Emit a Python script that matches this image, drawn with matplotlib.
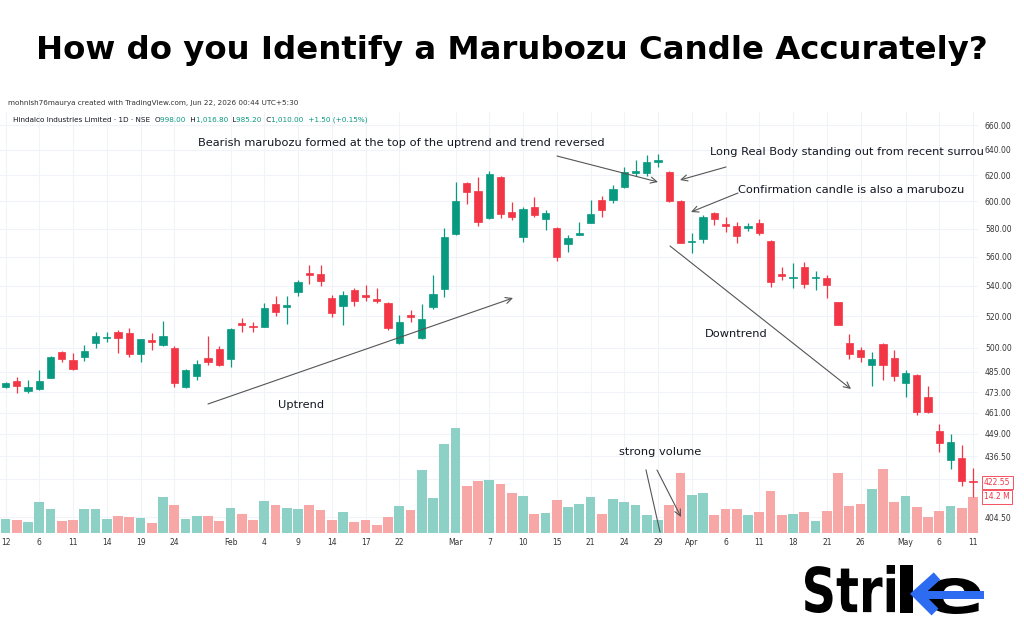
import numpy as np
import matplotlib
matplotlib.use("Agg")
import matplotlib.pyplot as plt
from matplotlib.textpath import TextPath
from matplotlib.patches import PathPatch, Rectangle
from matplotlib.font_manager import FontProperties
from matplotlib.offsetbox import TextArea, HPacker, AnnotationBbox
from matplotlib.transforms import Affine2D, blended_transform_factory
from matplotlib.lines import Line2D
import matplotlib.ticker as mticker

# daily candles, Hindalco (price in INR, volume in millions)
opens = [475.9, 479.5, 473.5, 474.7, 481.5, 497.3, 492.3, 494.1, 502.6, 505.9,
         509.7, 509.3, 495.7, 504.6, 501.3, 499.5, 475.9, 482.7, 493.3, 499.0,
         493.0, 515.3, 513.8, 513.1, 528.1, 526.1, 536.0, 548.5, 547.9, 531.8,
         526.7, 537.1, 533.8, 531.4, 528.7, 502.6, 520.5, 505.7, 525.7, 537.6,
         575.9, 614.3, 608.1, 587.5, 618.6, 592.1, 573.7, 595.6, 586.7, 580.2,
         568.9, 575.5, 584.2, 600.7, 601.1, 611.1, 621.8, 621.9, 630.5, 622.7,
         600.5, 570.2, 572.3, 591.6, 583.3, 581.9, 580.3, 583.8, 571.3, 547.8,
         545.3, 552.5, 545.3, 545.5, 529.2, 503.0, 498.4, 489.2, 502.0, 493.3,
         478.1, 483.3, 470.2, 450.8, 434.3, 435.4, 423.3]
highs = [478.9, 481.7, 480.1, 486.1, 494.7, 498.0, 496.7, 501.5, 509.9, 509.9,
         511.0, 512.1, 505.6, 509.3, 517.0, 500.9, 486.6, 492.3, 507.2, 500.9,
         512.1, 518.5, 516.3, 528.7, 533.3, 533.1, 543.9, 554.5, 554.5, 534.1,
         536.5, 538.3, 540.5, 538.3, 529.4, 520.7, 524.0, 527.9, 547.3, 580.2,
         614.9, 614.9, 618.6, 623.0, 619.1, 599.8, 596.0, 603.5, 593.6, 580.9,
         575.3, 585.0, 601.1, 603.8, 612.4, 626.3, 631.8, 635.7, 636.3, 623.3,
         601.1, 576.7, 589.9, 592.3, 588.6, 585.0, 584.4, 587.1, 571.8, 552.5,
         555.9, 556.2, 550.4, 547.3, 529.4, 508.4, 500.3, 497.3, 502.6, 498.4,
         486.3, 483.8, 476.5, 454.5, 448.9, 442.9, 430.0]
lows = [475.3, 472.6, 472.6, 474.1, 481.1, 491.2, 486.2, 491.8, 499.5, 503.2,
        496.7, 494.3, 490.8, 498.4, 500.9, 475.7, 475.5, 480.1, 489.2, 488.6,
        487.8, 509.7, 509.9, 512.7, 520.0, 514.8, 533.1, 541.2, 539.8, 519.7,
        514.2, 526.5, 529.9, 528.4, 511.0, 502.1, 516.3, 505.1, 524.4, 532.7,
        575.3, 597.7, 581.9, 586.7, 587.9, 586.2, 570.5, 588.6, 579.0, 557.0,
        563.5, 575.1, 583.8, 588.2, 598.8, 610.1, 619.7, 619.7, 626.5, 599.9,
        569.4, 562.3, 569.6, 582.6, 577.7, 569.4, 578.6, 575.3, 539.4, 543.9,
        538.3, 538.3, 537.1, 531.6, 514.2, 492.9, 491.2, 476.8, 480.3, 479.5,
        470.2, 459.6, 460.9, 438.7, 429.5, 420.6, 415.0]
closes = [478.3, 476.5, 475.7, 479.5, 493.9, 493.0, 486.8, 498.0, 507.4, 506.6,
          506.1, 495.9, 505.1, 503.5, 507.0, 478.5, 486.1, 489.6, 490.8, 489.2,
          511.5, 514.2, 512.9, 525.4, 522.8, 527.2, 542.7, 547.3, 543.0, 522.3,
          534.0, 529.9, 532.7, 530.1, 512.6, 516.3, 519.2, 517.9, 534.5, 574.1,
          600.5, 606.7, 584.5, 620.6, 590.6, 588.6, 594.1, 589.7, 591.6, 559.9,
          572.9, 576.9, 590.4, 593.6, 609.0, 622.7, 623.1, 630.5, 631.8, 600.4,
          569.8, 571.0, 588.2, 587.3, 581.7, 574.8, 582.1, 576.5, 542.5, 546.8,
          546.2, 541.4, 546.2, 540.3, 514.4, 495.8, 493.9, 492.7, 489.0, 482.7,
          484.5, 461.5, 461.5, 444.0, 444.5, 423.3, 422.55]
volume_m = [5.6, 5.1, 4.5, 12.2, 9.3, 4.7, 5.2, 9.3, 9.3, 5.5,
            6.7, 6.3, 5.8, 4.1, 14.2, 11.0, 5.5, 6.6, 6.6, 4.8,
            9.7, 7.4, 5.1, 12.6, 10.9, 9.7, 9.3, 10.9, 9.2, 5.1,
            8.3, 4.3, 5.2, 3.3, 6.2, 10.6, 8.9, 24.8, 13.7, 34.9,
            41.3, 18.5, 20.4, 20.9, 19.5, 15.9, 14.7, 7.5, 7.9, 13.1,
            10.4, 11.5, 14.2, 7.5, 13.5, 12.2, 11.0, 7.0, 5.2, 11.0,
            23.5, 15.1, 15.8, 7.1, 9.5, 9.3, 7.0, 8.2, 16.7, 7.2,
            7.5, 8.3, 4.7, 8.7, 23.6, 10.5, 11.5, 17.5, 25.1, 12.3,
            14.6, 10.4, 6.3, 8.7, 10.8, 9.7, 14.2]

tick_pos = [0, 3, 6, 9, 12, 15, 20, 23, 26, 29, 32, 35, 40, 43, 46, 49, 52,
            55, 58, 61, 64, 67, 70, 73, 76, 80, 83, 86]
tick_labels = ["12", "6", "11", "14", "19", "24", "Feb", "4", "9", "14", "17",
               "22", "Mar", "7", "10", "15", "21", "24", "29", "Apr", "6", "11",
               "18", "21", "26", "May", "6", "11"]
price_ticks = [660, 640, 620, 600, 580, 560, 540, 520, 500, 485, 473, 461,
               449, 436.5, 404.5]
hidden_grid = [424.5]   # grid row whose label sits under the last-price tag

GREEN = "#089981"
RED = "#f23645"
VGREEN = "#8dd0c5"
VRED = "#f7a8a6"
GRID = "#f0f3fa"
TXT = "#131722"

W, H = 1024, 640
fig = plt.figure(figsize=(W / 100, H / 100), dpi=100)
fig.patch.set_facecolor("white")

# chart area in pixels: x 0..978, y 112..533
rect = [0, (H - 533) / H, 978 / W, (533 - 112) / H]
xlim = (-0.49, 86.44)

# volume (bottom layer, also holds the grid)
axv = fig.add_axes(rect, label="vol")
axv.set_xlim(*xlim)
axv.set_ylim(0, 166)
axv.axis("off")

ax = fig.add_axes(rect, label="price")
ax.set_yscale("log")
ax.set_xlim(*xlim)
ax.set_ylim(396.7, 670.8)
ax.patch.set_visible(False)
for s in ax.spines.values():
    s.set_visible(False)

o = np.array(opens)
c = np.array(closes)
hi = np.array(highs)
lo = np.array(lows)
x = np.arange(len(o))
up = c >= o
cols = np.where(up, GREEN, RED)
vcols = np.where(up, VGREEN, VRED)

# grid
for t in tick_pos:
    axv.axvline(t, color=GRID, lw=0.8, zorder=0)
gtr = blended_transform_factory(axv.transAxes, ax.transData)
for p in price_ticks + hidden_grid:
    axv.plot([0, 1], [p, p], transform=gtr, color=GRID, lw=0.8, zorder=0)

axv.bar(x, volume_m, width=0.88, color=vcols, zorder=2)

ax.vlines(x, lo, hi, colors=cols, lw=0.9, zorder=3)
ax.bar(x, np.abs(c - o), bottom=np.minimum(o, c), width=0.64, color=cols,
       edgecolor=cols, linewidth=0.5, zorder=4)

ax.yaxis.tick_right()
ax.yaxis.set_major_locator(mticker.FixedLocator(price_ticks))
ax.yaxis.set_minor_locator(mticker.NullLocator())
ax.yaxis.set_major_formatter(mticker.FuncFormatter(lambda v, _: "%.2f" % v))
ax.set_xticks(tick_pos, tick_labels)
ax.tick_params(axis="both", length=0, labelsize=5.5, labelcolor="#333333")
ax.tick_params(axis="y", pad=5)
ax.tick_params(axis="x", pad=3.5)

# last price / last volume labels
tr_p = blended_transform_factory(ax.transAxes, ax.transData)
ax.text(1.006, closes[-1], "%.2f" % closes[-1], transform=tr_p, ha="left",
        va="center", fontsize=5.5, color=RED, zorder=10, clip_on=False,
        bbox=dict(boxstyle="square,pad=0.3", fc="white", ec=RED, lw=0.6))
tr_v = blended_transform_factory(ax.transAxes, axv.transData)
ax.text(1.006, volume_m[-1], "%.1f M" % volume_m[-1], transform=tr_v, ha="left",
        va="center", fontsize=5.5, color=RED, zorder=10, clip_on=False,
        bbox=dict(boxstyle="square,pad=0.3", fc="white", ec=RED, lw=0.6))

# overlay in pixel coordinates for annotations, header and logo
ov = fig.add_axes([0, 0, 1, 1], label="overlay")
ov.set_xlim(0, W)
ov.set_ylim(H, 0)
ov.axis("off")
ov.set_zorder(10)

title = "How do you Identify a Marubozu Candle Accurately?"
tt = ov.text(W / 2, 50, title, ha="center", va="center", fontsize=22,
             fontweight="bold", color="black")
r = fig.canvas.get_renderer()
tw = tt.get_window_extent(r).width
tt.set_fontsize(22 * 947 / tw)

ov.text(8, 103, "mohnish76maurya created with TradingView.com, Jun 22, 2026 00:44 UTC+5:30",
        fontsize=5.2, color="#333333", va="center", ha="left")

parts = [("Hindalco Industries Limited \u00b7 1D \u00b7 NSE  ", TXT), ("O", TXT),
         ("998.00 ", GREEN), (" H", TXT), ("1,016.80 ", GREEN), (" L", TXT),
         ("985.20 ", GREEN), (" C", TXT), ("1,010.00 ", GREEN),
         (" +1.50 (+0.15%)", GREEN)]
boxes = [TextArea(s, textprops=dict(color=col, fontsize=5.2)) for s, col in parts]
pack = HPacker(children=boxes, sep=0, pad=0, align="baseline")
ab = AnnotationBbox(pack, (13, 120), xycoords="data", box_alignment=(0, 0.5),
                    frameon=False, pad=0)
ov.add_artist(ab)

AFS = 8.2
arrow = dict(arrowstyle="->,head_length=0.45,head_width=0.22", color="#555555",
             lw=0.8, shrinkA=0, shrinkB=0)
ov.text(198, 143, "Bearish marubozu formed at the top of the uptrend and trend reversed",
        fontsize=AFS, color=TXT, va="center", ha="left")
ov.annotate("", xy=(658, 182), xytext=(557, 156), arrowprops=arrow)

# the note runs off the chart edge in the source, cut where it is cut there
ov.text(710, 152, "Long Real Body standing out from recent surrou",
        fontsize=AFS, color=TXT, va="center", ha="left")
ov.annotate("", xy=(680, 180), xytext=(726, 167), arrowprops=arrow)

ov.text(738, 190, "Confirmation candle is also a marubozu", fontsize=AFS,
        color=TXT, va="center", ha="left")
ov.annotate("", xy=(691, 212), xytext=(738, 193), arrowprops=arrow)

ov.text(736, 334, "Downtrend", fontsize=AFS, color=TXT, va="center", ha="center")
ov.annotate("", xy=(851, 389), xytext=(670, 246), arrowprops=arrow)

ov.text(301, 405, "Uptrend", fontsize=AFS, color=TXT, va="center", ha="center")
ov.annotate("", xy=(513, 298), xytext=(208, 404), arrowprops=arrow)

ov.text(660, 452, "strong volume", fontsize=AFS, color=TXT, va="center", ha="center")
ov.plot([646, 660], [470, 532], color="#555555", lw=0.8)
ov.annotate("", xy=(681, 517), xytext=(657, 470), arrowprops=arrow)


# logo
def fit_text(s, x0, x1, ytop, ybot, color):
    tp = TextPath((0, 0), s, size=100,
                  prop=FontProperties(family="DejaVu Sans", weight="bold"))
    e = tp.get_extents()
    tr = Affine2D().translate(-e.x0, -e.y0).scale((x1 - x0) / e.width,
                                                   -(ybot - ytop) / e.height).translate(x0, ybot)
    ov.add_patch(PathPatch(tr.transform_path(tp), fc=color, ec="none"))


BLUE = "#2d6cf0"
fit_text("Stri", 805, 895, 565, 613, "black")
ov.add_patch(Rectangle((900, 565), 13, 48, fc="black", ec="none"))
fit_text("e", 927, 981, 578, 614, "black")
ov.add_line(Line2D([937, 917, 935], [576, 594, 612], color=BLUE, lw=7,
                   solid_joinstyle="miter", solid_capstyle="butt"))
ov.add_patch(Rectangle((918, 591), 66, 8, fc=BLUE, ec="none"))

fig.savefig("out.png", dpi=100)
